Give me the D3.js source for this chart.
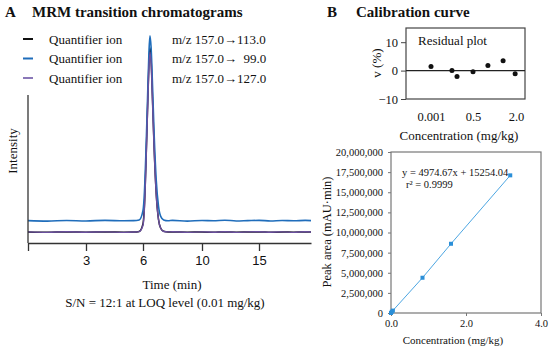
<!DOCTYPE html>
<html>
<head>
<meta charset="utf-8">
<script src="https://cdn.jsdelivr.net/npm/d3@7"></script>
<style>
  body { margin: 0; background: #fff; }
  text { font-family: "Liberation Serif", "Times New Roman", serif; fill: #111; }
</style>
</head>
<body>
<div id="chart"></div>
<script>
// ---- panel A data: chromatogram traces (time in min, intensity in arbitrary units)
const times = [0, 1, 2, 3, 4, 5, 5.5, 5.8, 6.0, 6.1, 6.2, 6.3, 6.4, 6.47, 6.55, 6.65, 6.75, 6.9, 7.05, 7.2, 7.4, 7.7,
  8, 9, 10, 11, 12, 13, 14, 15, 16, 17, 18, 19, 19.5];
const blueTrace = [15.1, 14.8, 15.2, 14.9, 15.3, 15.0, 15.1, 15.6, 22, 35, 62, 95, 128, 140, 132, 105, 75, 42, 25, 18, 15.6, 15.0,
  15.3, 14.8, 15.2, 15.0, 15.4, 14.9, 15.1, 15.3, 14.9, 15.2, 15.0, 15.3, 15.1];
const blackTrace = [7.4, 7.2, 7.5, 7.3, 7.5, 7.3, 7.4, 7.8, 13, 26, 54, 88, 121, 132, 124, 96, 66, 33, 16, 10, 7.9, 7.4,
  7.5, 7.3, 7.4, 7.2, 7.5, 7.3, 7.4, 7.5, 7.2, 7.4, 7.3, 7.5, 7.4];
const purpleTrace = [7.5, 7.2, 7.6, 7.3, 7.5, 7.2, 7.4, 7.7, 12, 24, 52, 86, 118, 129, 121, 93, 64, 32, 16, 10, 7.8, 7.5,
  7.6, 7.2, 7.5, 7.3, 7.6, 7.2, 7.5, 7.6, 7.3, 7.5, 7.2, 7.6, 7.4];
const timeTicks = [0, 3, 6, 10, 15];
const legendNames = ["Quantifier ion", "Quantifier ion", "Quantifier ion"];
const transitions = ["m/z 157.0\u2192113.0", "m/z 157.0\u2192  99.0", "m/z 157.0\u2192127.0"];

// ---- panel B data: residuals and calibration points
const residualConc = [0.001, 0.25, 0.31, 0.5, 1.02, 1.55, 1.97];
const residualPct = [1.4, 0.0, -2.1, -0.4, 1.8, 3.5, -1.1];
const residualXTicks = [0.001, 0.5, 2.0];
const residualYTicks = [-10, 0, 10];
const calConc = [0, 0.02, 0.05, 0.84, 1.6, 3.18];
const calArea = [0, 150000, 300000, 4380000, 8600000, 17100000];
const calYTicks = [0, 2500000, 5000000, 7500000, 10000000, 12500000, 15000000, 17500000, 20000000];
const calXTicks = [0, 2, 4];

const W = 550, H = 350;
const svg = d3.select("#chart").append("svg")
  .attr("width", W).attr("height", H);

// ================= Panel A =================
const xA = d3.scaleLinear()
  .domain([0, 3, 6, 10, 15, 19.5])
  .range([28, 86, 143, 202, 259, 311]);
const yA = d3.scaleLinear().domain([0, 100]).range([243, 95]);

svg.append("text").attr("x", 5).attr("y", 17)
  .style("font-weight", "bold").style("font-size", "15px").text("A");
svg.append("text").attr("x", 32).attr("y", 17)
  .style("font-weight", "bold").style("font-size", "15px").text("MRM transition chromatograms");

const traces = [
  { values: blackTrace, color: "#111111", width: 1.5 },
  { values: blueTrace, color: "#1f6dbb", width: 1.6 },
  { values: purpleTrace, color: "#6a4f9e", width: 1.4 }
];
const legendColors = ["#111111", "#1f6dbb", "#8a78b8"];

const lineA = d3.line()
  .x((d, i) => xA(times[i]))
  .y(d => yA(d))
  .curve(d3.curveMonotoneX);

traces.forEach(t => {
  svg.append("path")
    .datum(t.values)
    .attr("d", lineA)
    .attr("fill", "none")
    .attr("stroke", t.color)
    .attr("stroke-width", t.width);
});

// axes
svg.append("line")
  .attr("x1", 28).attr("x2", 28)
  .attr("y1", yA(100)).attr("y2", yA(0))
  .attr("stroke", "#333").attr("stroke-width", 1.3);

const xAxisA = svg.append("g")
  .attr("transform", `translate(0, ${yA(0)})`)
  .call(d3.axisBottom(xA).tickValues(timeTicks)
    .tickFormat(d => d === 0 ? "" : d)
    .tickSize(8).tickSizeOuter(0).tickPadding(5));
xAxisA.select(".domain").attr("stroke", "#333").attr("stroke-width", 1.3);
xAxisA.selectAll(".tick line").attr("stroke", "#333").attr("stroke-width", 1.3);
xAxisA.selectAll(".tick text")
  .style("font-family", "'Liberation Sans', Arial, sans-serif")
  .style("font-size", "13px");

svg.append("text")
  .attr("transform", "translate(17, 151) rotate(-90)")
  .style("text-anchor", "middle").style("font-size", "13px").text("Intensity");

svg.append("text").attr("x", 172).attr("y", 289)
  .style("text-anchor", "middle").style("font-size", "13px").text("Time (min)");
svg.append("text").attr("x", 165).attr("y", 307)
  .style("text-anchor", "middle").style("font-size", "13px")
  .text("S/N = 12:1 at LOQ level (0.01 mg/kg)");

// legend
legendNames.forEach((name, i) => {
  const y = 39 + i * 19.5;
  svg.append("line")
    .attr("x1", 23).attr("x2", 33).attr("y1", y).attr("y2", y)
    .attr("stroke", legendColors[i]).attr("stroke-width", 2);
  svg.append("text").attr("x", 49).attr("y", y + 4.5)
    .style("font-size", "13px").text(name);
  svg.append("text").attr("x", 172).attr("y", y + 4.5)
    .style("font-size", "13px").style("white-space", "pre")
    .attr("xml:space", "preserve").text(transitions[i]);
});

// ================= Panel B: residual plot =================
svg.append("text").attr("x", 327).attr("y", 17)
  .style("font-weight", "bold").style("font-size", "15px").text("B");
svg.append("text").attr("x", 356).attr("y", 17)
  .style("font-weight", "bold").style("font-size", "15px").text("Calibration curve");

const rL = 406, rR = 525, rT = 28, rB = 99;
const xR = d3.scaleLinear().domain(residualXTicks).range([431, 473, 516]);
const yR = d3.scaleLinear().domain([-10, 15]).range([rB, rT]);

svg.append("rect")
  .attr("x", rL).attr("y", rT).attr("width", rR - rL).attr("height", rB - rT)
  .attr("fill", "none").attr("stroke", "#444").attr("stroke-width", 1.2);
svg.append("line")
  .attr("x1", rL).attr("x2", rR).attr("y1", yR(0)).attr("y2", yR(0))
  .attr("stroke", "#222").attr("stroke-width", 1.2);

const yAxisR = svg.append("g")
  .attr("transform", `translate(${rL}, 0)`)
  .call(d3.axisLeft(yR).tickValues(residualYTicks).tickSize(5).tickPadding(3).tickSizeOuter(0));
yAxisR.select(".domain").remove();
yAxisR.selectAll(".tick line").attr("stroke", "#444");
yAxisR.selectAll(".tick text").style("font-size", "12.5px")
  .style("font-family", "'Liberation Serif', serif");

const xAxisR = svg.append("g")
  .attr("transform", `translate(0, ${rB})`)
  .call(d3.axisBottom(xR).tickValues(residualXTicks).tickSize(0).tickPadding(13)
    .tickFormat(d => d === 0.001 ? "0.001" : d3.format(".1f")(d)));
xAxisR.select(".domain").remove();
xAxisR.selectAll(".tick text").style("font-size", "12.5px")
  .style("font-family", "'Liberation Serif', serif");

svg.append("text").attr("x", 418).attr("y", 45)
  .style("font-size", "13px").text("Residual plot");
svg.append("text")
  .attr("transform", "translate(381, 63) rotate(-90)")
  .style("text-anchor", "middle").style("font-size", "13px").text("v (%)");
svg.append("text").attr("x", 459).attr("y", 140)
  .style("text-anchor", "middle").style("font-size", "13px").text("Concentration (mg/kg)");

svg.selectAll(".resid")
  .data(residualPct)
  .enter().append("circle")
  .attr("cx", (d, i) => xR(residualConc[i]))
  .attr("cy", d => yR(d))
  .attr("r", 2.5)
  .attr("fill", "#111");

// ================= Panel B: calibration curve =================
const cL = 391, cR = 541, cT = 152, cB = 313;
const xC = d3.scaleLinear().domain([0, 4]).range([cL, cR]);
const yC = d3.scaleLinear().domain([0, 20000000]).range([cB, cT]);

svg.append("rect")
  .attr("x", cL).attr("y", cT).attr("width", cR - cL).attr("height", cB - cT)
  .attr("fill", "none").attr("stroke", "#777").attr("stroke-width", 1.2);

const yAxisC = svg.append("g")
  .attr("transform", `translate(${cL}, 0)`)
  .call(d3.axisLeft(yC).tickValues(calYTicks).tickSize(3).tickPadding(5)
    .tickFormat(d3.format(",")));
yAxisC.select(".domain").remove();
yAxisC.selectAll(".tick line").attr("stroke", "#777");
yAxisC.selectAll(".tick text").style("font-size", "10.5px")
  .style("font-family", "'Liberation Serif', serif");

const xAxisC = svg.append("g")
  .attr("transform", `translate(0, ${cB})`)
  .call(d3.axisBottom(xC).tickValues(calXTicks).tickSize(3).tickPadding(4)
    .tickFormat(d3.format(".1f")));
xAxisC.select(".domain").remove();
xAxisC.selectAll(".tick line").attr("stroke", "#777");
xAxisC.selectAll(".tick text").style("font-size", "10.5px")
  .style("font-family", "'Liberation Serif', serif");

svg.append("text").attr("x", 453).attr("y", 344)
  .style("text-anchor", "middle").style("font-size", "11px").text("Concentration (mg/kg)");
svg.append("text")
  .attr("transform", "translate(331, 232) rotate(-90)")
  .style("text-anchor", "middle").style("font-size", "12.5px").text("Peak area (mAU\u00B7min)");

const lineC = d3.line()
  .x((d, i) => xC(calConc[i]))
  .y(d => yC(d));
svg.append("path")
  .datum(calArea)
  .attr("d", lineC)
  .attr("fill", "none")
  .attr("stroke", "#4da6e2")
  .attr("stroke-width", 1);

svg.selectAll(".calpt")
  .data(calArea)
  .enter().append("rect")
  .attr("x", (d, i) => xC(calConc[i]) - 2)
  .attr("y", d => yC(d) - 2)
  .attr("width", 4).attr("height", 4)
  .attr("fill", "#2b8fd8");

svg.append("text").attr("x", 402).attr("y", 176)
  .style("font-size", "10.5px").text("y = 4974.67x + 15254.04");
svg.append("text").attr("x", 406).attr("y", 188)
  .style("font-size", "10.5px").text("r\u00B2 = 0.9999");
</script>
</body>
</html>
